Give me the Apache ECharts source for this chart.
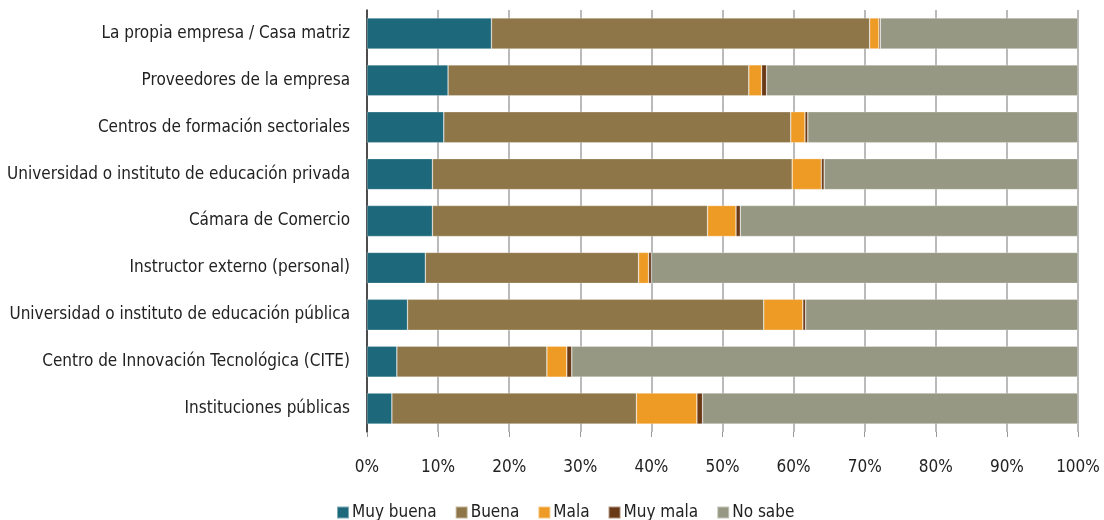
<!DOCTYPE html>
<html>
<head>
<meta charset="utf-8">
<script src="https://cdn.jsdelivr.net/npm/echarts@6/dist/echarts.min.js"></script>
<style>
  html, body { margin: 0; padding: 0; background: #fff; }
  #chart { width: 1104px; height: 520px; }
</style>
</head>
<body>
<div id="chart"></div>
<script>
const categories = [
  'La propia empresa / Casa matriz',
  'Proveedores de la empresa',
  'Centros de formación sectoriales',
  'Universidad o instituto de educación privada',
  'Cámara de Comercio',
  'Instructor externo (personal)',
  'Universidad o instituto de educación pública',
  'Centro de Innovación Tecnológica (CITE)',
  'Instituciones públicas'
];
const muyBuena = [17.5, 11.4, 10.8, 9.2, 9.2, 8.2, 5.7, 4.2, 3.5];
const buena = [53.2, 42.3, 48.8, 50.6, 38.7, 30.0, 50.1, 21.1, 34.4];
const mala = [1.3, 1.8, 2.0, 4.1, 4.0, 1.4, 5.5, 2.8, 8.5];
const muyMala = [0.2, 0.7, 0.4, 0.4, 0.6, 0.4, 0.4, 0.7, 0.8];
const noSabe = [27.8, 43.8, 38.0, 35.7, 47.5, 60.0, 38.3, 71.2, 52.8];
const xTicks = [0, 10, 20, 30, 40, 50, 60, 70, 80, 90, 100];

const font = '"DejaVu Sans Condensed", sans-serif';
const colors = ['#1d697b', '#8e7648', '#ee9b25', '#6a3a16', '#979883'];

const seriesDefs = [
  ['Muy buena', muyBuena],
  ['Buena', buena],
  ['Mala', mala],
  ['Muy mala', muyMala],
  ['No sabe', noSabe]
];

const chart = echarts.init(document.getElementById('chart'));
chart.setOption({
  animation: false,
  color: colors,
  textStyle: { fontFamily: font },
  grid: { left: 367, right: 26, top: 10, bottom: 88, containLabel: false, outerBoundsMode: 'none' },
  legend: {
    top: 499,
    left: 331,
    itemWidth: 12,
    itemHeight: 12,
    itemGap: 18,
    icon: 'rect',
    textStyle: { fontFamily: font, fontSize: 17, color: '#222', padding: [0, 0, 0, -2] },
    data: seriesDefs.map(d => d[0])
  },
  xAxis: {
    type: 'value',
    min: 0,
    max: 100,
    interval: 10,
    axisLine: { show: false },
    axisTick: { show: true, length: 5, lineStyle: { color: '#999', width: 1 } },
    splitLine: { show: true, lineStyle: { color: '#a3a3a3', width: 1.5 } },
    axisLabel: {
      margin: 27,
      fontSize: 17,
      color: '#222',
      fontFamily: font,
      formatter: v => xTicks.includes(v) ? v + '%' : ''
    }
  },
  yAxis: {
    type: 'category',
    inverse: true,
    data: categories,
    axisLine: { show: true, lineStyle: { color: '#2a2a2a', width: 1.5 } },
    axisTick: { show: false },
    axisLabel: { margin: 17, fontSize: 17, color: '#222', fontFamily: font }
  },
  series: seriesDefs.map(d => ({
    name: d[0],
    type: 'bar',
    stack: 'total',
    barWidth: 31,
    data: d[1],
    itemStyle: { borderColor: 'rgba(255,255,255,0.45)', borderWidth: 0.6 }
  }))
});
</script>
</body>
</html>
